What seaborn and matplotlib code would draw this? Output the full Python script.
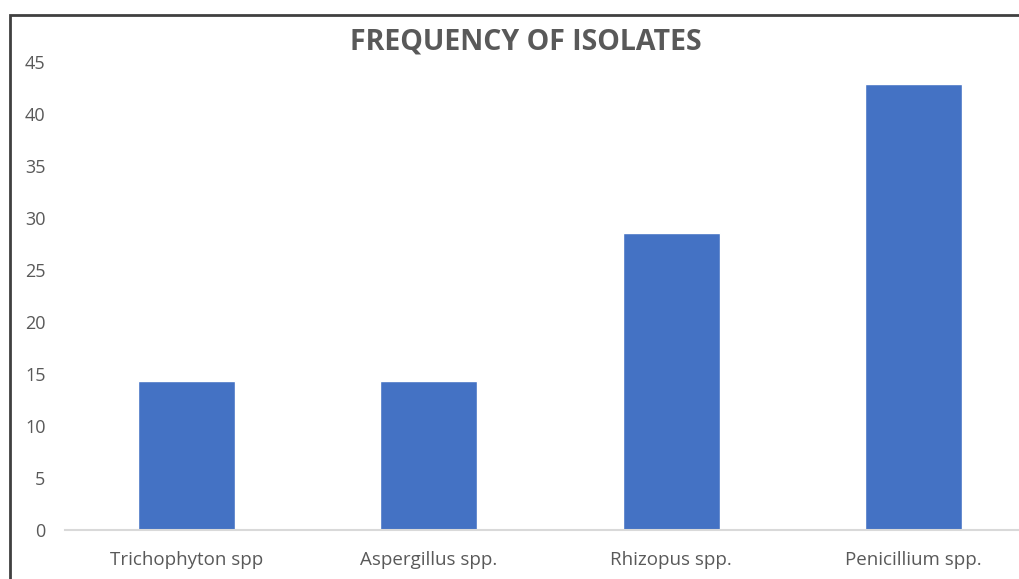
import matplotlib
matplotlib.use("Agg")
import matplotlib.pyplot as plt
import matplotlib.patches as mpatches
import seaborn as sns
import pandas as pd

# Daten
isolates = ['Trichophyton spp', 'Aspergillus spp.', 'Rhizopus spp.', 'Penicillium spp.']
frequency = [14.29, 14.29, 28.57, 42.86]
y_ticks = [0, 5, 10, 15, 20, 25, 30, 35, 40, 45]

df = pd.DataFrame({'isolate': isolates, 'frequency': frequency})

sns.set_style('white')
plt.rcParams['font.family'] = ['Open Sans', 'DejaVu Sans']

W, H = 1019, 579
fig = plt.figure(figsize=(W / 100, H / 100), dpi=100)
ax = fig.add_axes([65 / W, 1 - 530 / H, 970 / W, 468 / H])

sns.barplot(data=df, x='isolate', y='frequency', color='#4472C4', width=0.4,
            saturation=1, ax=ax)

ax.set_ylim(0, 45)
ax.set_yticks(y_ticks)
ax.set_xlim(-0.5, 3.5)
ax.set_xlabel('')
ax.set_ylabel('')
for s in ['top', 'right', 'left']:
    ax.spines[s].set_visible(False)
ax.spines['bottom'].set_color('#D9D9D9')
ax.spines['bottom'].set_linewidth(1.5)
ax.tick_params(axis='x', length=0, labelsize=13.5, colors='#595959', pad=15)
ax.tick_params(axis='y', length=0, labelsize=13, colors='#595959', pad=14)

fig.text(526 / W, 1 - 42 / H, 'FREQUENCY OF ISOLATES', ha='center', va='center',
         fontsize=20.5, fontweight='bold', color='#595959')

# Rahmen
fig.patches.append(mpatches.Rectangle((9.5 / W, -0.1), 1.2, 1.1 - 15 / H,
                                      transform=fig.transFigure, fill=False,
                                      edgecolor='#404040', linewidth=2))

fig.savefig('out.png', dpi=100)
